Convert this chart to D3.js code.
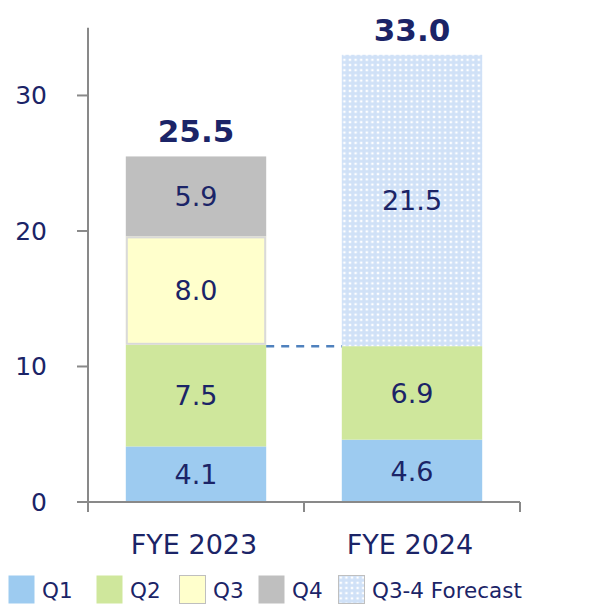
<!DOCTYPE html>
<html>
<head>
<meta charset="utf-8">
<script src="https://cdn.jsdelivr.net/npm/d3@7"></script>
<style>
body { margin: 0; background: #fff; }
text { font-family: "DejaVu Sans", Verdana, sans-serif; fill: #1b2467; }
</style>
</head>
<body>
<script>
// data
var years = ["FYE 2023", "FYE 2024"];
var q1 = [4.1, 4.6];
var q2 = [7.5, 6.9];
var q3 = [8.0, null];
var q4 = [5.9, null];
var forecast = [null, 21.5];
var totals = [25.5, 33.0];
var yTicks = [0, 10, 20, 30];
var legendNames = ["Q1", "Q2", "Q3", "Q4", "Q3-4 Forecast"];

var colors = {Q1: "#9dcbf0", Q2: "#cfe79c", Q3: "#ffffcc", Q4: "#bfbfbf"};

var width = 591, height = 604;
var svg = d3.select("body").append("svg")
    .attr("width", width)
    .attr("height", height);

// dotted pattern for the forecast
var defs = svg.append("defs");
var pat = defs.append("pattern")
    .attr("id", "dots")
    .attr("patternUnits", "userSpaceOnUse")
    .attr("width", 5.6)
    .attr("height", 5.2);
pat.append("rect").attr("width", 5.6).attr("height", 5.2).attr("fill", "#d0e1f7");
pat.append("rect").attr("x", 1.6).attr("y", 1.5).attr("width", 2.4).attr("height", 2.2).attr("fill", "#ffffff");

var x = d3.scaleBand()
    .domain(years)
    .range([88, 520])
    .paddingInner(0.35)
    .paddingOuter(0.175);

var y = d3.scaleLinear()
    .domain([0, 35])
    .range([502, 27.7]);

// stacked segments
var segs = [];
years.forEach(function (yr, i) {
    var base = 0;
    [["Q1", q1], ["Q2", q2], ["Q3", q3], ["Q4", q4], ["F", forecast]].forEach(function (s) {
        var v = s[1][i];
        if (v == null) return;
        segs.push({year: yr, key: s[0], y0: base, y1: base + v, v: v});
        base += v;
    });
});

svg.selectAll("rect.seg").data(segs).enter().append("rect")
    .attr("class", "seg")
    .attr("x", function (d) { return x(d.year); })
    .attr("width", x.bandwidth())
    .attr("y", function (d) { return y(d.y1); })
    .attr("height", function (d) { return y(d.y0) - y(d.y1); })
    .attr("fill", function (d) { return d.key == "F" ? "url(#dots)" : colors[d.key]; });

// grey border round Q3
segs.filter(function (d) { return d.key == "Q3"; }).forEach(function (d) {
    svg.append("rect")
        .attr("x", x(d.year) + 1)
        .attr("width", x.bandwidth() - 2)
        .attr("y", y(d.y1) + 1)
        .attr("height", y(d.y0) - y(d.y1) - 2)
        .attr("fill", "none")
        .attr("stroke", "#d9d9d9")
        .attr("stroke-width", 2);
});

// segment labels
svg.selectAll("text.seglab").data(segs).enter().append("text")
    .attr("class", "seglab")
    .attr("x", function (d) { return x(d.year) + x.bandwidth() / 2; })
    .attr("y", function (d) { return y((d.y0 + d.y1) / 2); })
    .attr("dy", "0.36em")
    .attr("text-anchor", "middle")
    .style("font-size", "27px")
    .text(function (d) { return d.v.toFixed(1); });

// totals
svg.selectAll("text.tot").data(totals).enter().append("text")
    .attr("class", "tot")
    .attr("x", function (d, i) { return x(years[i]) + x.bandwidth() / 2; })
    .attr("y", function (d) { return y(d) - 14; })
    .attr("text-anchor", "middle")
    .style("font-size", "31px")
    .style("font-weight", "bold")
    .text(function (d) { return d.toFixed(1); });

// dashed connector from the Q2 top
var top0 = q1[0] + q2[0];
svg.append("line")
    .attr("x1", x(years[0]) + x.bandwidth())
    .attr("x2", x(years[1]))
    .attr("y1", y(top0) + 1.5)
    .attr("y2", y(top0) + 1.5)
    .attr("stroke", "#4f81bd")
    .attr("stroke-width", 2.5)
    .attr("stroke-dasharray", "8,7");

// axes
var axisColor = "#898989";
svg.append("line")
    .attr("x1", 88).attr("x2", 88)
    .attr("y1", y(35)).attr("y2", y(0) + 10)
    .attr("stroke", axisColor).attr("stroke-width", 2);
svg.append("line")
    .attr("x1", 77).attr("x2", 520)
    .attr("y1", y(0)).attr("y2", y(0))
    .attr("stroke", axisColor).attr("stroke-width", 2);

svg.selectAll("line.ytick").data(yTicks).enter().append("line")
    .attr("x1", 77).attr("x2", 88)
    .attr("y1", function (d) { return y(d); })
    .attr("y2", function (d) { return y(d); })
    .attr("stroke", axisColor).attr("stroke-width", 2);

svg.selectAll("text.ylab").data(yTicks).enter().append("text")
    .attr("x", 47)
    .attr("y", function (d) { return y(d); })
    .attr("dy", "0.36em")
    .attr("text-anchor", "end")
    .style("font-size", "25px")
    .text(function (d) { return d; });

var xTicks = [88, 88 + x.step(), 520];
svg.selectAll("line.xtick").data(xTicks).enter().append("line")
    .attr("x1", function (d) { return d; })
    .attr("x2", function (d) { return d; })
    .attr("y1", y(0)).attr("y2", y(0) + 10)
    .attr("stroke", axisColor).attr("stroke-width", 2);

svg.selectAll("text.xlab").data(years).enter().append("text")
    .attr("x", function (d) { return x(d) + x.bandwidth() / 2 - 2; })
    .attr("y", 554)
    .attr("text-anchor", "middle")
    .style("font-size", "27px")
    .text(function (d) { return d; });

// legend
var legX = [8, 96, 179, 258, 338];
var leg = svg.selectAll("g.leg").data(legendNames).enter().append("g")
    .attr("transform", function (d, i) { return "translate(" + legX[i] + ",575)"; });
leg.append("rect")
    .attr("x", 0.5).attr("y", 0.5)
    .attr("width", 26).attr("height", 28)
    .attr("fill", function (d, i) { return i == 4 ? "url(#dots)" : colors[d]; })
    .attr("stroke", function (d, i) { return (i == 2 || i == 4) ? "#bfbfbf" : "none"; })
    .attr("stroke-width", 1);
leg.append("text")
    .attr("x", 34)
    .attr("y", 15)
    .attr("dy", "0.36em")
    .style("font-size", "21.5px")
    .text(function (d) { return d; });
</script>
</body>
</html>
